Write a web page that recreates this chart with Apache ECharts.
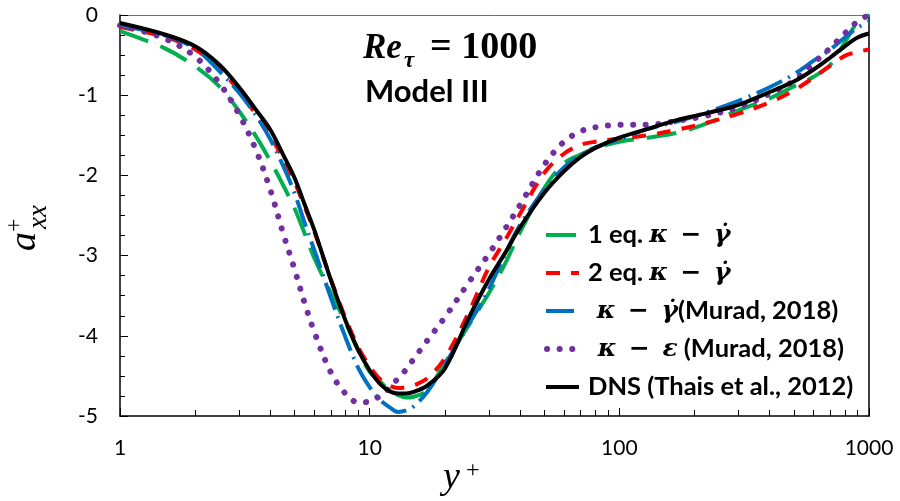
<!DOCTYPE html>
<html>
<head>
<meta charset="utf-8">
<script src="https://cdn.jsdelivr.net/npm/echarts@6/dist/echarts.min.js"></script>
<style>
  html, body { margin: 0; padding: 0; background: #fff; }
  #chart { width: 900px; height: 501px; }
</style>
</head>
<body>
<div id="chart"></div>
<script>
// Wall distance y+ (log scale) and the streamwise anisotropy a+_xx of each model
const yPlus = [1, 1.5, 2, 2.5, 3, 3.5, 4, 4.5, 5, 5.5, 6, 7, 8, 9, 10, 11, 12, 13, 14, 15, 17, 20, 25, 30, 35, 40, 50, 60, 70, 80, 100, 130, 170, 220, 300, 400, 500, 600, 700, 800, 900, 1000];

const oneEq = [-0.20, -0.41, -0.64, -0.89, -1.20, -1.51, -1.82, -2.12, -2.41, -2.73, -3.03, -3.47, -3.83, -4.18, -4.45, -4.57, -4.68, -4.74, -4.77, -4.76, -4.68, -4.34, -3.86, -3.47, -3.09, -2.71, -2.16, -1.85, -1.74, -1.66, -1.58, -1.53, -1.47, -1.36, -1.19, -1.04, -0.89, -0.77, -0.62, -0.34, -0.09, 0.0];
const twoEq = [-0.15, -0.27, -0.43, -0.67, -0.95, -1.24, -1.50, -1.80, -2.08, -2.40, -2.70, -3.30, -3.78, -4.14, -4.38, -4.54, -4.62, -4.65, -4.64, -4.62, -4.53, -4.28, -3.70, -3.15, -2.80, -2.48, -1.97, -1.73, -1.62, -1.58, -1.54, -1.50, -1.43, -1.35, -1.23, -1.09, -0.94, -0.78, -0.63, -0.51, -0.46, -0.43];
const muradKG = [-0.13, -0.25, -0.42, -0.70, -0.97, -1.25, -1.55, -1.88, -2.22, -2.60, -2.93, -3.53, -4.02, -4.40, -4.64, -4.80, -4.89, -4.95, -4.93, -4.88, -4.70, -4.36, -3.85, -3.42, -2.97, -2.62, -2.18, -1.90, -1.75, -1.65, -1.55, -1.42, -1.33, -1.22, -1.07, -0.90, -0.74, -0.57, -0.43, -0.28, -0.16, -0.08];
const muradKE = [-0.13, -0.29, -0.52, -0.85, -1.24, -1.68, -2.18, -2.72, -3.17, -3.60, -3.95, -4.46, -4.72, -4.83, -4.82, -4.75, -4.65, -4.53, -4.42, -4.29, -4.06, -3.77, -3.33, -2.98, -2.66, -2.37, -1.87, -1.58, -1.45, -1.40, -1.37, -1.37, -1.32, -1.26, -1.15, -0.98, -0.82, -0.60, -0.41, -0.23, -0.08, 0.0];
const dns = [-0.10, -0.24, -0.39, -0.62, -0.90, -1.18, -1.43, -1.74, -2.03, -2.37, -2.68, -3.31, -3.81, -4.18, -4.43, -4.60, -4.69, -4.72, -4.72, -4.70, -4.62, -4.41, -3.77, -3.30, -2.96, -2.65, -2.22, -1.95, -1.77, -1.66, -1.53, -1.42, -1.31, -1.23, -1.12, -0.96, -0.83, -0.68, -0.53, -0.39, -0.28, -0.23];

const seriesNames = ['1 eq. κ − γ̇', '2 eq. κ − γ̇', 'κ − γ̇ (Murad, 2018)', 'κ − ε (Murad, 2018)', 'DNS (Thais et al., 2012)'];
// en spaces around the minus sign, as in typeset math
const legendRich = {
  '1 eq. κ − γ̇': '{t|1 eq. }{m|κ\u2002−\u2002γ̇}',
  '2 eq. κ − γ̇': '{t|2 eq. }{m|κ\u2002−\u2002γ̇}',
  'κ − γ̇ (Murad, 2018)': '{m| κ\u2002−\u2002γ̇}{t|(Murad, 2018)}',
  'κ − ε (Murad, 2018)': '{m| κ\u2002−\u2002ε}{t| (Murad, 2018)}',
  'DNS (Thais et al., 2012)': '{t|DNS (Thais et al., 2012)}'
};

// Axis ticks
const xMajorTicks = [1, 10, 100, 1000];
const xMinorTicks = [2, 3, 4, 5, 6, 7, 8, 9, 20, 30, 40, 50, 60, 70, 80, 90, 200, 300, 400, 500, 600, 700, 800, 900];
const yMin = -5, yMax = 0;

const pairs = vals => yPlus.map((x, i) => [x, vals[i]]);

const chart = echarts.init(document.getElementById('chart'), null, { renderer: 'canvas' });

const sans = 'Lato';
const serif = '"Liberation Serif"';
const mathFont = '"DejaVu Serif"';

function line(name, vals, color, width, type, cap) {
  return {
    name: name,
    type: 'line',
    data: pairs(vals),
    smooth: 0.35,
    showSymbol: false,
    symbol: 'none',
    clip: true,
    lineStyle: { color: color, width: width, type: type, cap: cap || 'butt' },
    itemStyle: { color: color },
    emphasis: { disabled: true },
    animation: false
  };
}

// one legend block per entry so the rows sit on an even pitch
const legendLeft = 539, legendFirstTop = 217, legendPitch = 38;
const legends = seriesNames.map((name, i) => ({
  orient: 'vertical',
  left: legendLeft,
  top: legendFirstTop + i * legendPitch,
  itemWidth: 33, itemHeight: 14,
  selectedMode: false,
  data: [name],
  itemStyle: { opacity: 0 },
  lineStyle: { width: 'inherit' },
  formatter: n => legendRich[n],
  textStyle: {
    padding: [0, 0, 0, 4],
    rich: {
      t: { fontFamily: sans, fontWeight: 'bold', fontSize: 25.5, color: '#000', lineHeight: 30 },
      m: { fontFamily: mathFont, fontWeight: 'bold', fontStyle: 'italic', fontSize: 25, color: '#000', lineHeight: 30 }
    }
  }
}));

chart.setOption({
  animation: false,
  backgroundColor: '#fff',
  grid: { left: 120, top: 15, width: 749, height: 401, containLabel: false },
  xAxis: [
    {
      type: 'log', logBase: 10, min: 1, max: 1000, position: 'bottom',
      axisLine: { show: true, onZero: false, lineStyle: { color: '#000', width: 1.5 } },
      axisTick: { show: true, inside: true, length: 8, lineStyle: { color: '#000', width: 1 }, customValues: xMajorTicks },
      axisLabel: { show: true, margin: 22, color: '#000', fontFamily: sans, fontSize: 21, customValues: xMajorTicks, formatter: v => String(v) },
      splitLine: { show: false }
    },
    {
      type: 'log', logBase: 10, min: 1, max: 1000, position: 'bottom',
      axisLine: { show: false, onZero: false },
      axisTick: { show: true, inside: true, length: 6, lineStyle: { color: '#000', width: 1 }, customValues: xMinorTicks },
      axisLabel: { show: false },
      splitLine: { show: false }
    },
    {
      type: 'log', logBase: 10, min: 1, max: 1000, position: 'top',
      axisLine: { show: true, onZero: false, lineStyle: { color: '#6e6e6e', width: 1 } },
      axisTick: { show: false }, axisLabel: { show: false }, splitLine: { show: false }
    }
  ],
  yAxis: [
    {
      type: 'value', min: yMin, max: yMax, interval: 1, position: 'left',
      axisLine: { show: true, onZero: false, lineStyle: { color: '#000', width: 1.5 } },
      axisTick: { show: true, inside: true, length: 8, lineStyle: { color: '#000', width: 1 } },
      axisLabel: { show: true, margin: 22, color: '#000', fontFamily: sans, fontSize: 21 },
      splitLine: { show: false }
    },
    {
      type: 'value', min: yMin, max: yMax, interval: 0.25, position: 'left',
      axisLine: { show: false, onZero: false },
      axisTick: { show: true, inside: true, length: 5, lineStyle: { color: '#000', width: 1 } },
      axisLabel: { show: false }, splitLine: { show: false }
    },
    {
      type: 'value', min: yMin, max: yMax, position: 'right',
      axisLine: { show: true, onZero: false, lineStyle: { color: '#000', width: 1.5 } },
      axisTick: { show: false }, axisLabel: { show: false }, splitLine: { show: false }
    }
  ],
  legend: legends,
  series: [
    line(seriesNames[0], oneEq, '#00B050', 4, [30, 13]),
    line(seriesNames[1], twoEq, '#FF0000', 4, [14, 11]),
    line(seriesNames[2], muradKG, '#0070C0', 4, [28, 7, 2, 7]),
    line(seriesNames[3], muradKE, '#7030A0', 6, [0.1, 12.5], 'round'),
    line(seriesNames[4], dns, '#000000', 4, 'solid')
  ],
  graphic: [
    // Reynolds number and model annotation
    { type: 'text', style: { text: 'Re', x: 363, y: 49, font: 'bold italic 35px ' + serif, fill: '#000', verticalAlign: 'middle' } },
    { type: 'text', style: { text: 'τ', x: 404, y: 61, font: 'bold italic 23px ' + serif, fill: '#000', verticalAlign: 'middle' } },
    { type: 'text', style: { text: '= 1000', x: 430, y: 48, font: 'bold 38px ' + serif, fill: '#000', verticalAlign: 'middle' } },
    { type: 'text', style: { text: 'Model III', x: 365, y: 92, font: 'bold 31px ' + sans, fill: '#000', verticalAlign: 'middle' } },
    // x-axis title y+
    { type: 'text', style: { text: 'y', x: 443, y: 478, font: 'italic 38px ' + serif, fill: '#000', verticalAlign: 'middle' } },
    { type: 'text', style: { text: '+', x: 466, y: 471, font: '24px ' + serif, fill: '#000', verticalAlign: 'middle' } },
    // y-axis title a+_xx, reading bottom to top
    { type: 'text', x: 25, y: 251, rotation: Math.PI / 2, style: { text: 'a', x: 0, y: 0, font: 'italic 38px ' + serif, fill: '#000', verticalAlign: 'middle' } },
    { type: 'text', x: 15, y: 232, rotation: Math.PI / 2, style: { text: '+', x: 0, y: 0, font: '24px ' + serif, fill: '#000', verticalAlign: 'middle' } },
    { type: 'text', x: 39, y: 229, rotation: Math.PI / 2, style: { text: 'xx', x: 0, y: 0, font: 'italic 27px ' + serif, fill: '#000', verticalAlign: 'middle' } }
  ]
});
</script>
</body>
</html>
